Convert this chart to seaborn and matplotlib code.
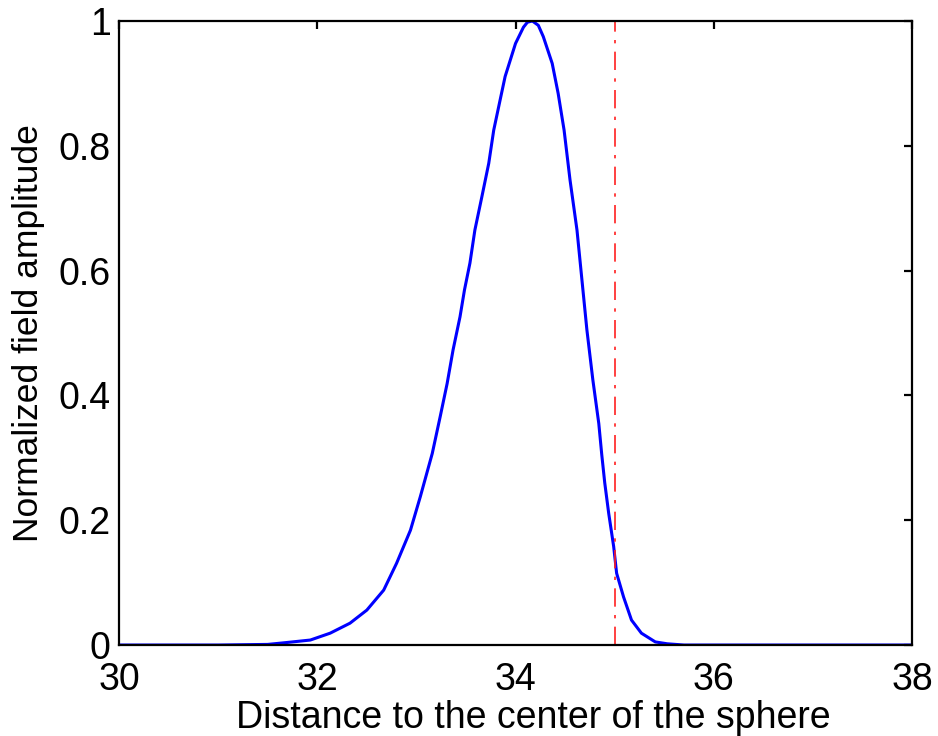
import matplotlib
matplotlib.use("Agg")
import matplotlib.pyplot as plt
import seaborn as sns
import pandas as pd

# ---- data ----
distance = [30.0, 31.0, 31.5, 31.69, 31.93, 32.13, 32.33, 32.50, 32.67, 32.80,
            32.94, 33.04, 33.16, 33.24, 33.31, 33.37, 33.44, 33.485, 33.54, 33.59,
            33.66, 33.73, 33.78, 33.84, 33.895, 34.00, 34.08, 34.12, 34.17, 34.23,
            34.28, 34.37, 34.43, 34.49, 34.55, 34.62, 34.67, 34.72, 34.78, 34.84,
            34.87, 34.90, 34.94, 34.99, 35.02, 35.09, 35.17, 35.27, 35.41, 35.53,
            35.70, 38.0]
amplitude = [0.0, 0.0, 0.001, 0.004, 0.008, 0.019, 0.035, 0.056, 0.088, 0.131,
             0.184, 0.238, 0.307, 0.366, 0.419, 0.473, 0.526, 0.569, 0.612, 0.665,
             0.718, 0.772, 0.825, 0.870, 0.911, 0.964, 0.990, 0.998, 1.000, 0.993,
             0.975, 0.932, 0.884, 0.825, 0.745, 0.665, 0.585, 0.505, 0.425, 0.355,
             0.305, 0.260, 0.211, 0.158, 0.115, 0.077, 0.040, 0.019, 0.005, 0.002,
             0.0, 0.0]
sphere_radius = 35.0
x_ticks = [30, 32, 34, 36, 38]
y_ticks = [0, 0.2, 0.4, 0.6, 0.8, 1]
y_tick_labels = ["0", "0.2", "0.4", "0.6", "0.8", "1"]

df = pd.DataFrame({"distance": distance, "amplitude": amplitude})

sns.set_style("white")
plt.rcParams["font.family"] = ["Liberation Sans", "DejaVu Sans"]

fig = plt.figure(figsize=(9.38, 7.36), dpi=100)
ax = fig.add_axes([0.1269, 0.1236, 0.9723 - 0.1269, 0.9715 - 0.1236])

sns.lineplot(data=df, x="distance", y="amplitude", ax=ax, color="#0000FF",
             linewidth=2.2, sort=False, estimator=None)
ax.axvline(sphere_radius, color="#FF2020", linewidth=1.2,
           linestyle=(0, (11, 5, 2, 5)))

ax.set_xlim(30, 38)
ax.set_ylim(0, 1)
ax.set_xticks(x_ticks)
ax.set_xticklabels([str(t) for t in x_ticks])
ax.set_yticks(y_ticks)
ax.set_yticklabels(y_tick_labels)

for s in ax.spines.values():
    s.set_visible(True)
    s.set_color("black")
    s.set_linewidth(1.6)

ax.tick_params(axis="both", which="major", direction="in", length=6, width=1.6,
               top=True, right=True, labelsize=27, colors="black")
ax.tick_params(axis="x", pad=12)
ax.tick_params(axis="y", pad=6)

ax.set_xlabel("Distance to the center of the sphere", fontsize=27,
              color="black")
ax.xaxis.set_label_coords(0.522, -0.088)
ax.set_ylabel("Normalized field amplitude", fontsize=25.5, labelpad=10,
              color="black")

fig.savefig("out.png", dpi=100, facecolor="white")
